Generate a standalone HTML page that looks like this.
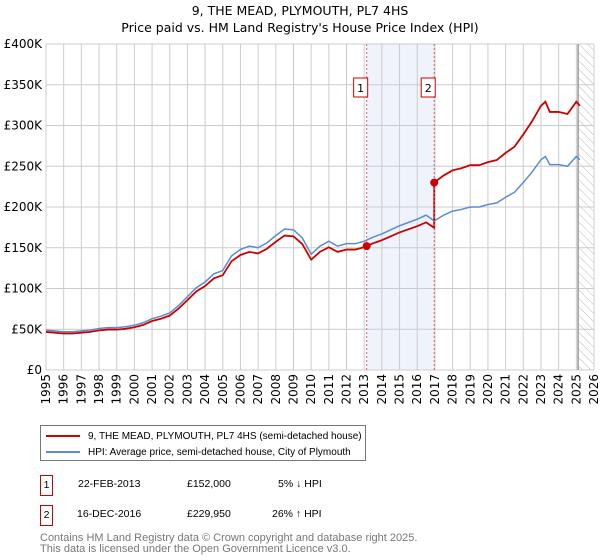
<!DOCTYPE html>
<html><head><meta charset="utf-8"><style>
body{margin:0;background:#fff;font-family:"Liberation Sans","DejaVu Sans",sans-serif}
#wrap{position:relative;width:600px;height:560px;overflow:hidden}
svg text{font-family:"DejaVu Sans","Liberation Sans",sans-serif}
</style></head><body><div id="wrap">
<svg id="chart" width="600" height="560" style="position:absolute;left:0;top:0">
<defs><pattern id="hatch" width="6" height="6" patternUnits="userSpaceOnUse" patternTransform="rotate(-45)"><line x1="0" y1="0" x2="0" y2="6" stroke="#bbb" stroke-width="1"/></pattern></defs>
<text x="300" y="15" text-anchor="middle" font-size="12.5">9, THE MEAD, PLYMOUTH, PL7 4HS</text>
<text x="300" y="32" text-anchor="middle" font-size="12.5">Price paid vs. HM Land Registry's House Price Index (HPI)</text>
<g id="grid"></g><g id="marks"></g><g id="axes"></g>
</svg>
<div style="position:absolute;left:40px;top:425px;width:324px;height:34px;border:1px solid #777;font-size:10px">
<div style="position:absolute;left:5px;top:5px;white-space:nowrap"><span style="display:inline-block;width:34px;height:2px;background:#cc0000;vertical-align:middle;margin-right:8px"></span>9, THE MEAD, PLYMOUTH, PL7 4HS (semi-detached house)</div>
<div style="position:absolute;left:5px;top:21px;white-space:nowrap"><span style="display:inline-block;width:34px;height:2px;background:#5b8bd0;vertical-align:middle;margin-right:8px"></span>HPI: Average price, semi-detached house, City of Plymouth</div>
</div>
<div style="position:absolute;left:40px;top:475px;font-size:10.5px;width:400px">
<div style="position:absolute;left:0;top:0;width:11px;height:19px;border:1px solid #c00;text-align:center;line-height:19px">1</div>
<div style="position:absolute;left:38px;top:3px">22-FEB-2013</div>
<div style="position:absolute;left:147px;top:3px">£152,000</div>
<div style="position:absolute;left:238px;top:3px">5% ↓ HPI</div>
<div style="position:absolute;left:0;top:30px;width:11px;height:19px;border:1px solid #c00;text-align:center;line-height:19px">2</div>
<div style="position:absolute;left:37px;top:33px">16-DEC-2016</div>
<div style="position:absolute;left:147px;top:33px">£229,950</div>
<div style="position:absolute;left:232px;top:33px">26% ↑ HPI</div>
</div>
<div style="position:absolute;left:40px;top:533px;font-size:11px;color:#777;line-height:11px">Contains HM Land Registry data © Crown copyright and database right 2025.<br>This data is licensed under the Open Government Licence v3.0.</div>
</div>
<script>
const hpiYears=[1995,1995.5,1996,1996.5,1997,1997.5,1998,1998.5,1999,1999.5,2000,2000.5,2001,2001.5,2002,2002.5,2003,2003.5,2004,2004.5,2005,2005.5,2006,2006.5,2007,2007.5,2008,2008.5,2009,2009.5,2010,2010.5,2011,2011.5,2012,2012.5,2013,2013.5,2014,2014.5,2015,2015.5,2016,2016.5,2016.96,2017.5,2018,2018.5,2019,2019.5,2020,2020.5,2021,2021.5,2022,2022.5,2023,2023.25,2023.5,2024,2024.5,2025,2025.2];
const hpiValues=[49,48,47,47,48,49,51,52,52,53,55,58,63,66,70,79,90,101,108,118,122,140,148,152,150,156,165,173,172,162,142,152,158,152,155,155,158,163,167,172,177,181,185,190,183,190,195,197,200,200,203,205,212,218,230,243,258,262,252,252,250,262,258];
const saleYears=[2013.14,2016.96];
const salePrices=[152,229.95];
const saleLabels=["1","2"];
const yTicks=[0,50,100,150,200,250,300,350,400];
const yTickLabels=["£0","£50K","£100K","£150K","£200K","£250K","£300K","£350K","£400K"];
const xTicks=[1995,1996,1997,1998,1999,2000,2001,2002,2003,2004,2005,2006,2007,2008,2009,2010,2011,2012,2013,2014,2015,2016,2017,2018,2019,2020,2021,2022,2023,2024,2025,2026];
const X0=46,X1=594,Y0=370,Y1=44,xMin=1995,xMax=2026,yMax=400;
const sx=v=>X0+(v-xMin)/(xMax-xMin)*(X1-X0);
const sy=v=>Y0-v/yMax*(Y0-Y1);
const NS="http://www.w3.org/2000/svg";
function mk(tag,attrs,parent){const e=document.createElementNS(NS,tag);for(const k in attrs)e.setAttribute(k,attrs[k]);parent.appendChild(e);return e;}
const grid=document.getElementById('grid'),marks=document.getElementById('marks'),axes=document.getElementById('axes');
let r=mk('rect',{x:sx(saleYears[0]),y:Y1,width:sx(saleYears[1])-sx(saleYears[0]),height:Y0-Y1,fill:'#eef3fc'},grid);


r=mk('rect',{x:sx(2025.1),y:Y1,width:X1-sx(2025.1),height:Y0-Y1,fill:'url(#hatch)'},grid);


yTicks.forEach((t,i)=>{const l=mk('line',{x1:X0,x2:X1,y1:sy(t),y2:sy(t),stroke:'#ccc'},grid);


const tx=mk('text',{x:X0-4,y:sy(t)+4,'text-anchor':'end','font-size':'12'},axes);tx.textContent=yTickLabels[i];

});
xTicks.forEach(t=>{const l=mk('line',{x1:sx(t),x2:sx(t),y1:Y1,y2:Y0,stroke:'#ccc'},grid);


const tx=mk('text',{x:0,y:0,'text-anchor':'end','font-size':'12',transform:`translate(${sx(t)+4},${Y0+4}) rotate(-90)`},axes);tx.textContent=t;

});
let l=mk('line',{x1:sx(2025.1),x2:sx(2025.1),y1:Y1,y2:Y0,stroke:'#999','stroke-width':1.5},grid);


function interp(y){for(let i=0;i<hpiYears.length-1;i++){if(y<=hpiYears[i+1]){const f=(y-hpiYears[i])/(hpiYears[i+1]-hpiYears[i]);return hpiValues[i]+f*(hpiValues[i+1]-hpiValues[i]);}}return hpiValues[hpiValues.length-1];}
const r1=salePrices[0]/interp(saleYears[0]),r2=salePrices[1]/interp(saleYears[1]);
let hp='',rp='';
hpiYears.forEach((y,i)=>{hp+=(i?'L':'M')+sx(y)+','+sy(hpiValues[i]);
if(y<saleYears[1]){rp+=(i?'L':'M')+sx(y)+','+sy(hpiValues[i]*r1);}
else{if(y===hpiYears.find(v=>v>=saleYears[1])){rp+='L'+sx(saleYears[1])+','+sy(interp(saleYears[1])*r1)+'L'+sx(saleYears[1])+','+sy(salePrices[1]);}
rp+='L'+sx(y)+','+sy(hpiValues[i]*r2);}});
let p=mk('path',{d:hp,fill:'none',stroke:'#5b8bd0','stroke-width':1.5},marks);


p=mk('path',{d:rp,fill:'none',stroke:'#cc0000','stroke-width':1.8},marks);


saleYears.forEach((y,i)=>{const v=mk('line',{x1:sx(y),x2:sx(y),y1:Y1,y2:Y0,stroke:'#e06060','stroke-dasharray':'2,2'},marks);


const c=mk('circle',{cx:sx(y),cy:sy(salePrices[i]),r:4,fill:'#cc0000'},marks);


const b=mk('rect',{x:sx(y)-13,y:78,width:14,height:19,fill:'#fff',stroke:'#c00'},marks);


const t=mk('text',{x:sx(y)-6,y:92,'text-anchor':'middle','font-size':'11'},marks);t.textContent=saleLabels[i];

});
</script></body></html>
